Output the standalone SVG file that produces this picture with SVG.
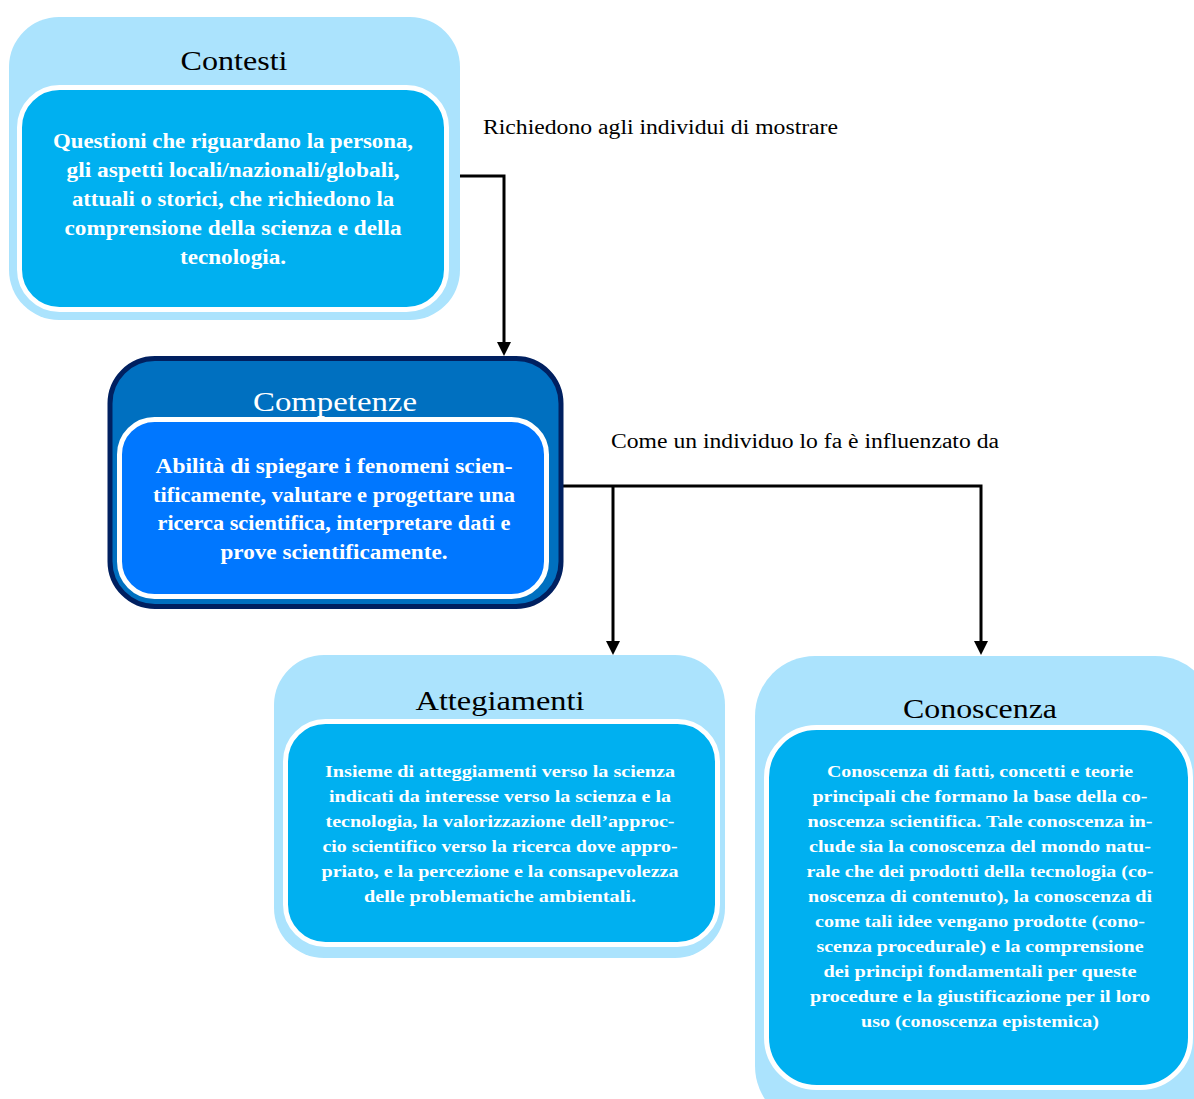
<svg xmlns="http://www.w3.org/2000/svg" width="1194" height="1099" viewBox="0 0 1194 1099">
<defs>
<marker id="ah" markerUnits="userSpaceOnUse" markerWidth="14" markerHeight="14" refX="4" refY="7" orient="auto">
<path d="M0,0 L14,7 L0,14 z" fill="#000"/>
</marker>
<style>
.outer{fill:#ABE3FD}
.inner{fill:#00B0F0;stroke:#fff;stroke-width:5}
.title{font-family:"Liberation Serif",serif;font-size:28px;fill:#000;text-anchor:middle}
.body{font-family:"Liberation Serif",serif;font-weight:bold;font-size:20px;fill:#fff;text-anchor:middle}
.small{font-family:"Liberation Serif",serif;font-weight:bold;font-size:17px;fill:#fff;text-anchor:middle}
.lbl{font-family:"Liberation Serif",serif;font-size:20px;fill:#000}
.conn{fill:none;stroke:#000;stroke-width:3}
</style>
</defs>
<rect width="1194" height="1099" fill="#fff"/>
<g id="connectors">
<path class="conn" d="M459,176 H504 V346" marker-end="url(#ah)"/>
<path class="conn" d="M563,486 H981 V645" marker-end="url(#ah)"/>
<path class="conn" d="M613,486 V645" marker-end="url(#ah)"/>
<text class="lbl" x="483" y="134" textLength="355" lengthAdjust="spacingAndGlyphs">Richiedono agli individui di mostrare</text>
<text class="lbl" x="611" y="448" textLength="388" lengthAdjust="spacingAndGlyphs">Come un individuo lo fa è influenzato da</text>
</g>
<g id="contesti">
<rect class="outer" x="9" y="17" width="451" height="303" rx="50"/>
<rect class="inner" x="19.5" y="87.5" width="427" height="222" rx="40"/>
<text class="title" x="234" y="70" textLength="107" lengthAdjust="spacingAndGlyphs">Contesti</text>
<text class="body" x="233" y="148" textLength="360" lengthAdjust="spacingAndGlyphs">Questioni che riguardano la persona,</text>
<text class="body" x="233" y="177" textLength="333" lengthAdjust="spacingAndGlyphs">gli aspetti locali/nazionali/globali,</text>
<text class="body" x="233" y="206" textLength="322" lengthAdjust="spacingAndGlyphs">attuali o storici, che richiedono la</text>
<text class="body" x="233" y="235" textLength="337" lengthAdjust="spacingAndGlyphs">comprensione della scienza e della</text>
<text class="body" x="233" y="264" textLength="106" lengthAdjust="spacingAndGlyphs">tecnologia.</text>
</g>
<g id="competenze">
<rect x="110" y="358.5" width="451" height="248" rx="45" fill="#0070C0" stroke="#002060" stroke-width="5"/>
<rect x="119.5" y="419.5" width="427" height="177" rx="35" fill="#0077FF" stroke="#fff" stroke-width="5"/>
<text class="title" x="335" y="411" fill="#fff" style="fill:#fff" textLength="164" lengthAdjust="spacingAndGlyphs">Competenze</text>
<text class="body" x="334" y="473" textLength="357" lengthAdjust="spacingAndGlyphs">Abilità di spiegare i fenomeni scien-</text>
<text class="body" x="334" y="502" textLength="362" lengthAdjust="spacingAndGlyphs">tificamente, valutare e progettare una</text>
<text class="body" x="334" y="530" textLength="353" lengthAdjust="spacingAndGlyphs">ricerca scientifica, interpretare dati e</text>
<text class="body" x="334" y="559" textLength="227" lengthAdjust="spacingAndGlyphs">prove scientificamente.</text>
</g>
<g id="atteggiamenti">
<rect class="outer" x="274" y="655" width="451" height="303" rx="50"/>
<rect class="inner" x="285.5" y="721.5" width="432" height="223" rx="40"/>
<text class="title" x="500" y="710" textLength="169" lengthAdjust="spacingAndGlyphs">Attegiamenti</text>
<text class="small" x="500" y="777" textLength="350" lengthAdjust="spacingAndGlyphs">Insieme di atteggiamenti verso la scienza</text>
<text class="small" x="500" y="802" textLength="342" lengthAdjust="spacingAndGlyphs">indicati da interesse verso la scienza e la</text>
<text class="small" x="500" y="827" textLength="349" lengthAdjust="spacingAndGlyphs">tecnologia, la valorizzazione dell’approc-</text>
<text class="small" x="500" y="852" textLength="355" lengthAdjust="spacingAndGlyphs">cio scientifico verso la ricerca dove appro-</text>
<text class="small" x="500" y="877" textLength="357" lengthAdjust="spacingAndGlyphs">priato, e la percezione e la consapevolezza</text>
<text class="small" x="500" y="902" textLength="272" lengthAdjust="spacingAndGlyphs">delle problematiche ambientali.</text>
</g>
<g id="conoscenza">
<rect class="outer" x="755" y="656" width="460" height="470" rx="60"/>
<rect class="inner" x="766.5" y="727.5" width="424" height="360" rx="50"/>
<text class="title" x="980" y="718" textLength="154" lengthAdjust="spacingAndGlyphs">Conoscenza</text>
<text class="small" x="980" y="777" textLength="306" lengthAdjust="spacingAndGlyphs">Conoscenza di fatti, concetti e teorie</text>
<text class="small" x="980" y="802" textLength="335" lengthAdjust="spacingAndGlyphs">principali che formano la base della co-</text>
<text class="small" x="980" y="827" textLength="345" lengthAdjust="spacingAndGlyphs">noscenza scientifica. Tale conoscenza in-</text>
<text class="small" x="980" y="852" textLength="342" lengthAdjust="spacingAndGlyphs">clude sia la conoscenza del mondo natu-</text>
<text class="small" x="980" y="877" textLength="347" lengthAdjust="spacingAndGlyphs">rale che dei prodotti della tecnologia (co-</text>
<text class="small" x="980" y="902" textLength="344" lengthAdjust="spacingAndGlyphs">noscenza di contenuto), la conoscenza di</text>
<text class="small" x="980" y="927" textLength="330" lengthAdjust="spacingAndGlyphs">come tali idee vengano prodotte (cono-</text>
<text class="small" x="980" y="952" textLength="327" lengthAdjust="spacingAndGlyphs">scenza procedurale) e la comprensione</text>
<text class="small" x="980" y="977" textLength="313" lengthAdjust="spacingAndGlyphs">dei principi fondamentali per queste</text>
<text class="small" x="980" y="1002" textLength="340" lengthAdjust="spacingAndGlyphs">procedure e la giustificazione per il loro</text>
<text class="small" x="980" y="1027" textLength="238" lengthAdjust="spacingAndGlyphs">uso (conoscenza epistemica)</text>
</g>
</svg>
